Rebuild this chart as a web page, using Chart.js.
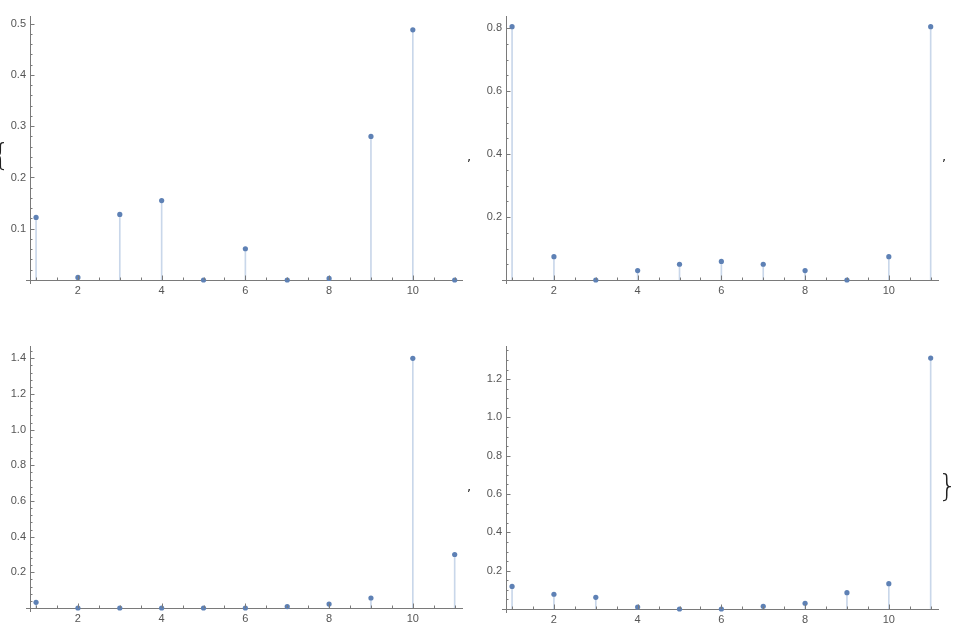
<!DOCTYPE html>
<html>
<head>
<meta charset="utf-8">
<script src="https://cdn.jsdelivr.net/npm/chart.js@4.4.1/dist/chart.umd.min.js"></script>
<style>
  html, body { margin: 0; padding: 0; background: #fff; }
  body { width: 957px; height: 635px; position: relative; overflow: hidden; font-family: "Liberation Sans", Arial, sans-serif; }
  .panel { position: absolute; }
  .brace { position: absolute; color: #222; font-family: "DejaVu Sans", sans-serif; line-height: 1; }
</style>
</head>
<body>
<div class="panel" style="left:0;top:0;width:480px;height:310px"><canvas id="plot-a"></canvas></div>
<div class="panel" style="left:476px;top:0;width:480px;height:310px"><canvas id="plot-b"></canvas></div>
<div class="panel" style="left:0;top:330px;width:480px;height:305px"><canvas id="plot-c"></canvas></div>
<div class="panel" style="left:476px;top:330px;width:480px;height:305px"><canvas id="plot-d"></canvas></div>

<span class="brace" style="left:-9px;top:140px;font-size:30px;font-weight:200">{</span>
<span class="brace" style="left:467px;top:150px;font-size:13px">,</span>
<span class="brace" style="left:942px;top:150px;font-size:13px">,</span>
<span class="brace" style="left:467px;top:480px;font-size:13px">,</span>
<span class="brace" style="left:938px;top:471px;font-size:30px;font-weight:200">}</span>

<script>
const X_VALUES = [1, 2, 3, 4, 5, 6, 7, 8, 9, 10, 11];
const X_TICKS = [2, 4, 6, 8, 10];

const SERIES_A = [0.122, 0.005, 0.128, 0.155, 0, 0.061, 0, 0.003, 0.280, 0.488, 0];
const SERIES_B = [0.805, 0.074, 0, 0.030, 0.050, 0.059, 0.050, 0.030, 0, 0.074, 0.805];
const SERIES_C = [0.032, 0, 0, 0, 0, 0, 0.008, 0.022, 0.056, 1.400, 0.300];
const SERIES_D = [0.118, 0.077, 0.061, 0.010, 0, 0, 0.014, 0.030, 0.085, 0.132, 1.310];

const Y_TICKS_A = [0.1, 0.2, 0.3, 0.4, 0.5];
const Y_TICKS_B = [0.2, 0.4, 0.6, 0.8];
const Y_TICKS_C = [0.2, 0.4, 0.6, 0.8, 1.0, 1.2, 1.4];
const Y_TICKS_D = [0.2, 0.4, 0.6, 0.8, 1.0, 1.2];

const POINT_COLOR = '#5e81b5';
const STEM_COLOR = '#c9d7ea';
const AXIS_COLOR = '#7a7a7a';
const LABEL_COLOR = '#555';

// Mathematica-ish inward ticks (major + minor) and crossing axes
const axisTicks = {
  id: 'axisTicks',
  afterDraw(chart, args, opts) {
    const { ctx, chartArea: a, scales: { x, y } } = chart;
    ctx.save();
    ctx.strokeStyle = AXIS_COLOR;
    ctx.lineWidth = 1;
    ctx.beginPath();
    // small overshoot where the axes cross
    ctx.moveTo(a.left + 0.5, a.bottom); ctx.lineTo(a.left + 0.5, a.bottom + 4);
    ctx.moveTo(a.left - 4, a.bottom + 0.5); ctx.lineTo(a.left, a.bottom + 0.5);
    for (let v = Math.ceil(x.min / opts.xStep) * opts.xStep; v <= x.max + 1e-9; v += opts.xStep) {
      const px = Math.round(x.getPixelForValue(v)) + 0.5;
      const major = Math.abs(v / opts.xMajor - Math.round(v / opts.xMajor)) < 1e-6;
      ctx.moveTo(px, a.bottom);
      ctx.lineTo(px, a.bottom - (major ? 4.5 : 2.5));
    }
    for (let v = opts.yStep; v <= y.max + 1e-9; v += opts.yStep) {
      const py = Math.round(y.getPixelForValue(v)) + 0.5;
      const major = opts.yMajor.some(t => Math.abs(t - v) < 1e-6);
      ctx.moveTo(a.left, py);
      ctx.lineTo(a.left + (major ? 4.5 : 2.5), py);
    }
    ctx.stroke();
    ctx.restore();
  }
};

function stemPlot(id, values, yTicks, yMax, yStep, xAxisHeight) {
  const pts = X_VALUES.map((x, i) => ({ x, y: values[i] }));
  return new Chart(document.getElementById(id), {
    type: 'scatter',
    data: {
      datasets: [
        {
          type: 'scatter',
          data: pts,
          backgroundColor: POINT_COLOR,
          borderWidth: 0,
          pointRadius: 2.6,
          clip: false,
          order: 0,
        },
        {
          type: 'bar',
          data: pts,
          backgroundColor: STEM_COLOR,
          barThickness: 1,
          order: 1,
        },
      ],
    },
    options: {
      responsive: true,
      maintainAspectRatio: false,
      animation: false,
      events: [],
      layout: { padding: { top: 16, right: 18, left: 0, bottom: 0 } },
      plugins: {
        legend: { display: false },
        tooltip: { enabled: false },
        axisTicks: { xStep: 0.5, xMajor: 2, yStep, yMajor: yTicks },
      },
      scales: {
        x: {
          type: 'linear',
          min: 0.855,
          max: 11.175,
          offset: false,
          grid: { display: false, drawTicks: false },
          border: { display: true, color: AXIS_COLOR, width: 1 },
          afterBuildTicks: s => { s.ticks = X_TICKS.map(v => ({ value: v })); },
          afterFit: s => { s.height = xAxisHeight; },
          ticks: {
            padding: 4,
            color: LABEL_COLOR,
            font: { family: '"Liberation Sans", Arial, sans-serif', size: 11 },
            maxRotation: 0,
            callback: v => String(v),
          },
        },
        y: {
          type: 'linear',
          min: 0,
          max: yMax,
          grid: { display: false, drawTicks: false },
          border: { display: true, color: AXIS_COLOR, width: 1 },
          afterBuildTicks: s => { s.ticks = yTicks.map(v => ({ value: v })); },
          afterFit: s => { s.width = 30; },
          ticks: {
            padding: 4,
            color: LABEL_COLOR,
            font: { family: '"Liberation Sans", Arial, sans-serif', size: 11 },
            callback: v => v.toFixed(1),
          },
        },
      },
    },
    plugins: [axisTicks],
  });
}

stemPlot('plot-a', SERIES_A, Y_TICKS_A, 0.515, 0.02, 30);
stemPlot('plot-b', SERIES_B, Y_TICKS_B, 0.839, 0.05, 30);
stemPlot('plot-c', SERIES_C, Y_TICKS_C, 1.469, 0.04, 27);
stemPlot('plot-d', SERIES_D, Y_TICKS_D, 1.373, 0.05, 26);
</script>
</body>
</html>
